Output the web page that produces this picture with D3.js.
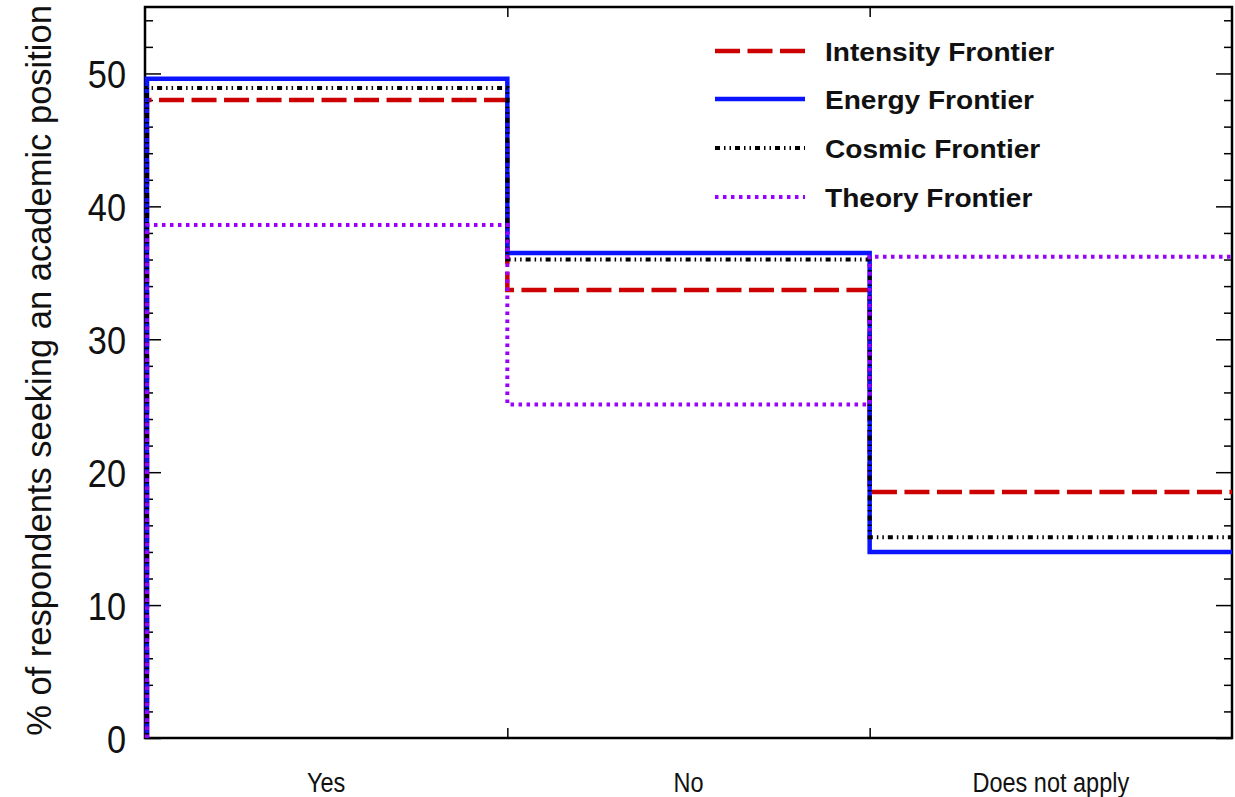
<!DOCTYPE html>
<html>
<head>
<meta charset="utf-8">
<script src="https://cdn.jsdelivr.net/npm/d3@7"></script>
<style>
  body { margin: 0; background: #fff; }
  svg { display: block; }
</style>
</head>
<body>
<div class="container"></div>
<script>
// data
let categories = ["Yes", "No", "Does not apply"];
let intensity = [48.0, 33.7, 18.5];
let energy = [49.6, 36.5, 14.0];
let cosmic = [48.9, 36.0, 15.1];
let theory = [38.6, 25.1, 36.2];
let yMajor = [0, 10, 20, 30, 40, 50];
let yMinor = [2, 4, 6, 8, 12, 14, 16, 18, 22, 24, 26, 28, 32, 34, 36, 38, 42, 44, 46, 48, 52, 54];

let series = [
  { name: "Intensity Frontier", values: intensity, color: "#cc0000", width: 4.5, dash: "25,7.5" },
  { name: "Energy Frontier", values: energy, color: "#0a14ff", width: 4.5, dash: null },
  { name: "Cosmic Frontier", values: cosmic, color: "#000000", width: 4, dash: "5,4,1.5,4,1.5,4" },
  { name: "Theory Frontier", values: theory, color: "#9900ff", width: 4, dash: "3.5,4.5" }
];

const W = 1235, H = 797;
const plotLeft = 145, plotRight = 1232, plotTop = 7, plotBottom = 738;
const font = "'Liberation Sans', Arial, sans-serif";

let svg = d3.select(".container")
  .append("svg")
  .attr("width", W)
  .attr("height", H);

let x = d3.scaleLinear().domain([0, 3]).range([plotLeft, plotRight]);
let xBand = d3.scaleBand().domain(categories).range([plotLeft, plotRight]);
let y = d3.scaleLinear().domain([0, 55]).range([plotBottom, plotTop]);

// ticks, all pointing inward
function tickStyle(g) {
  g.select(".domain").remove();
  g.selectAll(".tick line").attr("stroke", "#000").attr("stroke-width", 1.5);
}

// the original text is set in a condensed face
function squeeze(sel, sx) {
  sel.each(function () {
    let t = d3.select(this);
    let x0 = +t.attr("x") || 0;
    t.attr("x", x0 / sx).attr("transform", `scale(${sx},1)`);
  });
}

// frame
svg.append("rect")
  .attr("x", plotLeft)
  .attr("y", plotTop)
  .attr("width", plotRight - plotLeft)
  .attr("height", plotBottom - plotTop)
  .attr("fill", "none")
  .attr("stroke", "#000")
  .attr("stroke-width", 2.5);

svg.append("g")
  .attr("transform", `translate(${plotLeft},0)`)
  .call(d3.axisLeft(y).tickValues(yMajor).tickSize(-16).tickPadding(19).tickFormat(d3.format("d")))
  .call(tickStyle)
  .call(g => g.selectAll("text")
    .attr("font-family", font)
    .attr("font-size", 39)
    .attr("fill", "#111")
    .attr("dy", "0.36em")
    .call(squeeze, 0.88));

svg.append("g")
  .attr("transform", `translate(${plotLeft},0)`)
  .call(d3.axisLeft(y).tickValues(yMinor).tickSize(-8).tickFormat(""))
  .call(tickStyle);

svg.append("g")
  .attr("transform", `translate(${plotRight},0)`)
  .call(d3.axisRight(y).tickValues(yMajor).tickSize(-16).tickFormat(""))
  .call(tickStyle);

svg.append("g")
  .attr("transform", `translate(${plotRight},0)`)
  .call(d3.axisRight(y).tickValues(yMinor).tickSize(-8).tickFormat(""))
  .call(tickStyle);

svg.append("g")
  .attr("transform", `translate(0,${plotBottom})`)
  .call(d3.axisBottom(x).tickValues([1, 2]).tickSize(-10).tickFormat(""))
  .call(tickStyle);

svg.append("g")
  .attr("transform", `translate(0,${plotTop})`)
  .call(d3.axisTop(x).tickValues([1, 2]).tickSize(-10).tickFormat(""))
  .call(tickStyle);

// category labels
svg.append("g")
  .attr("transform", `translate(0,${plotBottom})`)
  .call(d3.axisBottom(xBand).tickSize(0).tickPadding(0))
  .call(g => g.select(".domain").remove())
  .call(g => g.selectAll("text")
    .attr("y", 54)
    .attr("dy", null)
    .attr("font-family", font)
    .attr("font-size", 28)
    .attr("fill", "#111")
    .call(squeeze, 0.84));

// y title
svg.append("text")
  .attr("transform", `translate(51,${(plotTop + plotBottom) / 2 - 2}) rotate(-90)`)
  .attr("text-anchor", "middle")
  .attr("font-family", font)
  .attr("font-size", 34.5)
  .attr("fill", "#111")
  .text("% of respondents seeking an academic position");

// step lines
let line = d3.line()
  .x(d => x(d[0]) + (d[0] === 0 ? 2 : 0))
  .y(d => y(d[1]))
  .curve(d3.curveStepAfter);

let lines = svg.append("g").attr("class", "lines");
series.forEach(s => {
  let pts = [[0, 0]];
  s.values.forEach((v, i) => pts.push([i, v]));
  pts.push([3, s.values[s.values.length - 1]]);
  lines.append("path")
    .attr("d", line(pts))
    .attr("fill", "none")
    .attr("stroke", s.color)
    .attr("stroke-width", s.width)
    .attr("stroke-dasharray", s.dash)
    .attr("stroke-linejoin", "miter");
});

// legend
let legend = svg.append("g").attr("class", "legend");
let rowY = [51, 99, 148, 197];
series.forEach((s, i) => {
  legend.append("line")
    .attr("x1", 715)
    .attr("x2", 805)
    .attr("y1", rowY[i])
    .attr("y2", rowY[i])
    .attr("stroke", s.color)
    .attr("stroke-width", s.width)
    .attr("stroke-dasharray", s.dash);
  legend.append("text")
    .attr("x", 825)
    .attr("y", rowY[i] + 10)
    .attr("font-family", font)
    .attr("font-weight", "bold")
    .attr("font-size", 26)
    .attr("fill", "#111")
    .text(s.name)
    .call(squeeze, 1.08);
});
</script>
</body>
</html>
